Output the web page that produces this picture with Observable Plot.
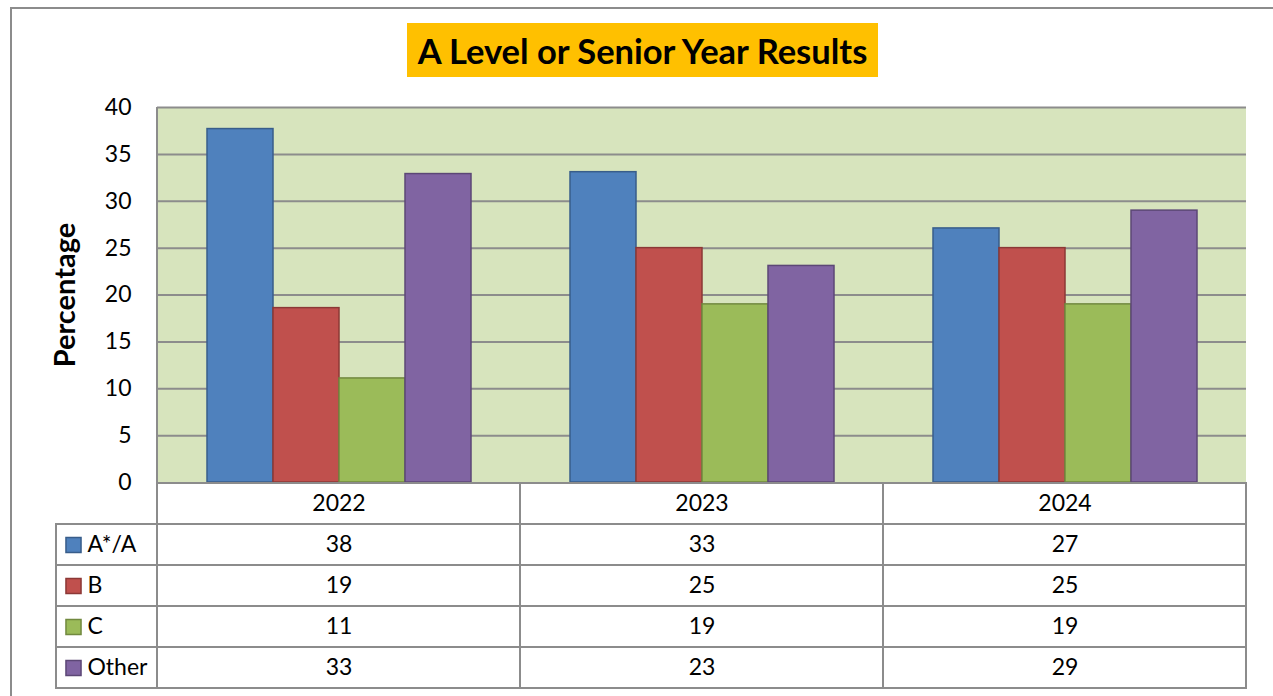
<!DOCTYPE html>
<html><head><meta charset="utf-8">
<script src="https://cdn.jsdelivr.net/npm/d3@7"></script>
<script src="https://cdn.jsdelivr.net/npm/@observablehq/plot@0.6"></script>
<style>
body{margin:0;background:#fff;font-family:Lato,sans-serif;}
#wrap{position:relative;width:1273px;height:696px;overflow:hidden;}
#border{position:absolute;left:10px;top:7px;width:2000px;height:2000px;border-left:2px solid #8c8c8c;border-top:2px solid #8c8c8c;}
#title{position:absolute;left:407px;top:23px;width:471px;height:54px;background:#FFC000;font:bold 34.5px Lato,sans-serif;display:flex;align-items:center;justify-content:center;color:#000;white-space:nowrap}
#plotbg{position:absolute;left:156px;top:107px;width:1090px;height:375px;background:#D7E4BD;border-left:2px solid #8c8c8c;box-sizing:border-box}
.abs{position:absolute}
</style></head><body>
<div id="wrap"><div id="border"></div><div id="title">A Level or Senior Year Results</div><div id="plotbg"></div></div>
<script>
const years = ["2022", "2023", "2024"];
const series = ["A*/A", "B", "C", "Other"];
const fills = ["#4F81BD", "#C0504D", "#9BBB59", "#8064A2"];
const strokes = ["#385D8A", "#8C3836", "#71893F", "#5C4776"];
const valuesA = [37.7, 33.1, 27.1];
const valuesB = [18.6, 25, 25];
const valuesC = [11.1, 19, 19];
const valuesOther = [32.9, 23.1, 29];
const yTicks = [0, 5, 10, 15, 20, 25, 30, 35, 40];

const seriesValues = [valuesA, valuesB, valuesC, valuesOther];
const rows = years.flatMap((yr, i) => series.map((s, j) => ({year: yr, series: s, value: seriesValues[j][i]})));
const fillOf = s => fills[series.indexOf(s)];
const strokeOf = s => strokes[series.indexOf(s)];
const grid = "#8c8c8c";
const fs = 23;
const wrap = document.getElementById("wrap");

const chart = Plot.plot({
  width: 1273, height: 484,
  marginTop: 107, marginBottom: 2, marginLeft: 157, marginRight: 27,
  style: {fontFamily: "Lato, sans-serif", fontSize: fs + "px", color: "#000", background: "transparent", overflow: "visible"},
  fx: {domain: years, padding: 0, axis: null},
  x: {domain: series, paddingInner: 0, paddingOuter: 0.75, axis: null},
  y: {domain: [0, 40], axis: null},
  color: {type: "identity"},
  marks: [
    Plot.gridY(yTicks.filter(t => t > 0), {stroke: grid, strokeOpacity: 1, strokeWidth: 2}),
    Plot.axisY(yTicks, {tickSize: 0, tickPadding: 26, fontSize: fs, label: null, facetAnchor: "left"}),
    Plot.barY(rows, {fx: "year", x: "series", y: "value", fill: d => fillOf(d.series), stroke: d => strokeOf(d.series), strokeWidth: 1.5, inset: 0}),
    Plot.text(["Percentage"], {frameAnchor: "left", dx: -92, rotate: -90, textAnchor: "middle", fontWeight: "bold", fontSize: 29, text: d => d, facetAnchor: "left"})
  ]
});
chart.classList.add("abs");
chart.style.left = "0px"; chart.style.top = "0px";
wrap.appendChild(chart);

const table = Plot.plot({
  width: 1091, height: 209,
  marginTop: 1, marginBottom: 1, marginLeft: 1, marginRight: 1,
  style: {fontFamily: "Lato, sans-serif", fontSize: fs + "px", color: "#000", background: "transparent", overflow: "visible"},
  x: {domain: years, padding: 0, axis: null},
  y: {domain: ["year", ...series], padding: 0, axis: null},
  marks: [
    Plot.cell(years, {x: d => d, y: () => "year", fill: "white", stroke: grid, strokeWidth: 2, inset: 0}),
    Plot.cell(rows, {x: "year", y: "series", fill: "white", stroke: grid, strokeWidth: 2, inset: 0}),
    Plot.text(years, {x: d => d, y: () => "year", text: d => d, fontSize: fs, fill: "#000"}),
    Plot.text(rows, {x: "year", y: "series", text: d => String(Math.round(d.value)), fontSize: fs, fill: "#000"})
  ]
});
table.classList.add("abs");
table.style.left = "156px"; table.style.top = "481px";
wrap.appendChild(table);

const legend = Plot.plot({
  width: 103, height: 168,
  marginTop: 1, marginBottom: 1, marginLeft: 1, marginRight: 1,
  style: {fontFamily: "Lato, sans-serif", fontSize: fs + "px", color: "#000", background: "transparent", overflow: "visible"},
  y: {domain: series, padding: 0, axis: null},
  color: {type: "identity"},
  marks: [
    Plot.cell(series, {y: d => d, fill: "white", stroke: grid, strokeWidth: 2, inset: 0}),
    Plot.dot(series, {y: d => d, frameAnchor: "left", dx: 17, symbol: "square", r: 8.5, fill: d => fillOf(d), stroke: d => strokeOf(d), strokeWidth: 1.5}),
    Plot.text(series, {y: d => d, frameAnchor: "left", dx: 31, textAnchor: "start", text: d => d, fontSize: fs, fill: "#000"})
  ]
});
legend.classList.add("abs");
legend.style.left = "55px"; legend.style.top = "522px";
wrap.appendChild(legend);
</script>
</body></html>
